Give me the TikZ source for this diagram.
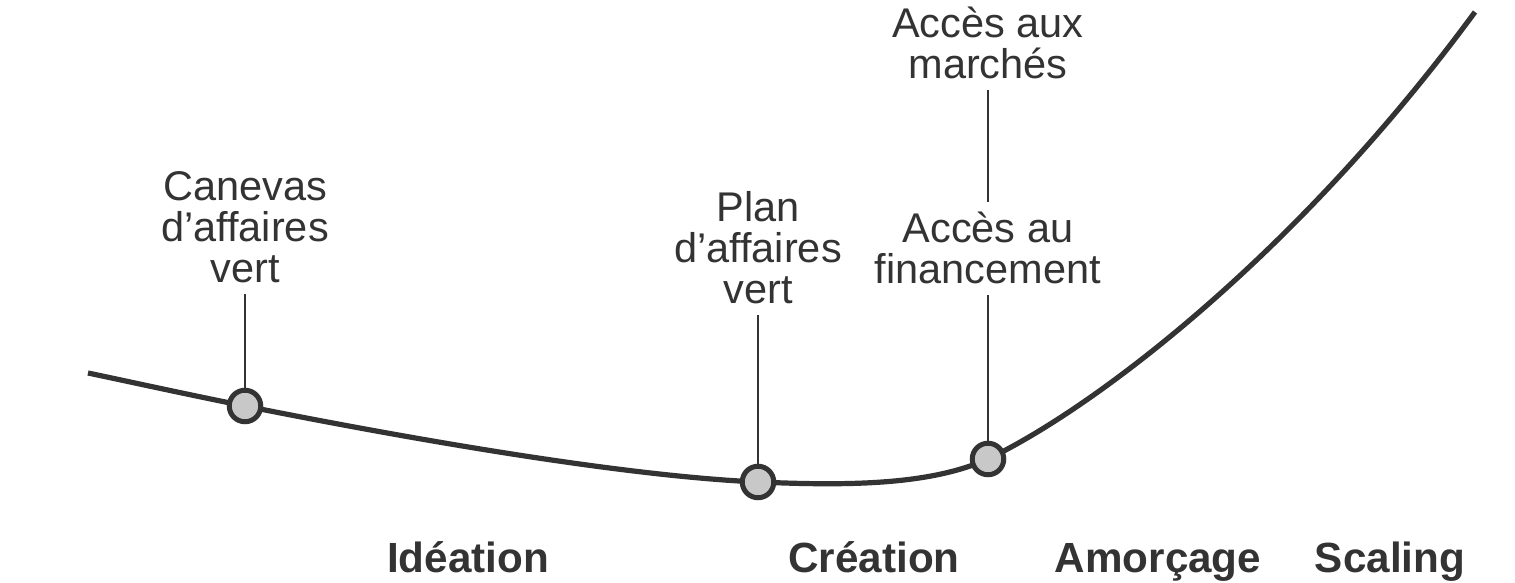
\documentclass[tikz,border=0pt]{standalone}
\usepackage{fontspec}
\setmainfont{Liberation Sans}
\definecolor{ink}{HTML}{333333}
\definecolor{dotgray}{HTML}{C8C8C8}
\begin{document}
\begin{tikzpicture}[x=0.01cm, y=-0.01cm,
    curve/.style={draw=ink, line width=0.052cm},
    milestone/.style={circle, draw=ink, line width=0.05cm, fill=dotgray, minimum size=0.315cm, inner sep=0pt},
    stagetext/.style={align=center, text=ink, anchor=base, inner xsep=0pt, inner ysep=0.1cm,
        font=\fontsize{11.8}{11.7}\selectfont},
    phase/.style={text=ink, anchor=base, inner sep=0pt, font=\fontsize{12}{14}\selectfont\bfseries},
    stem/.style={draw=ink, line width=0.016cm}]
    \useasboundingbox (0,0) rectangle (1515,583);

    % Curve
    \coordinate (start) at (88,373);
    \coordinate (p1) at (245,406);
    \coordinate (p2) at (758,482);
    \coordinate (p3) at (988,459);
    \coordinate (end) at (1475,12);
    \draw[curve] (start) .. controls (140,384) and (190,395) .. (p1)
        .. controls (400,437) and (620,476) .. (p2)
        .. controls (850,486) and (930,485) .. (p3)
        .. controls (1100,405) and (1300,250) .. (end);

    % Milestones
    \node[milestone] (canevas) at (p1) {};
    \node[milestone] (plan) at (p2) {};
    \node[milestone] (financement) at (p3) {};

    \node[stagetext] (canevastext) at (245,283) {Canevas\\d’affaires\\vert};
    \node[stagetext] (plantext) at (758,304) {Plan\\d’affaires\\vert};
    \node[stagetext] (financetext) at (988,284) {Accès au\\financement};
    \node[stagetext] (marchetext) at (988,79) {Accès aux\\marchés};

    \draw[stem] (canevastext) -- (canevas);
    \draw[stem] (plantext) -- (plan);
    \draw[stem] (financetext) -- (financement);
    \draw[stem] (marchetext) -- (financetext);

    % Phases
    \node[phase] (ideation) at (468,573) {Idéation};
    \node[phase] (creation) at (874,573) {Création};
    \node[phase] (amorcage) at (1158,573) {Amorçage};
    \node[phase] (scaling) at (1390,573) {Scaling};
\end{tikzpicture}
\end{document}
